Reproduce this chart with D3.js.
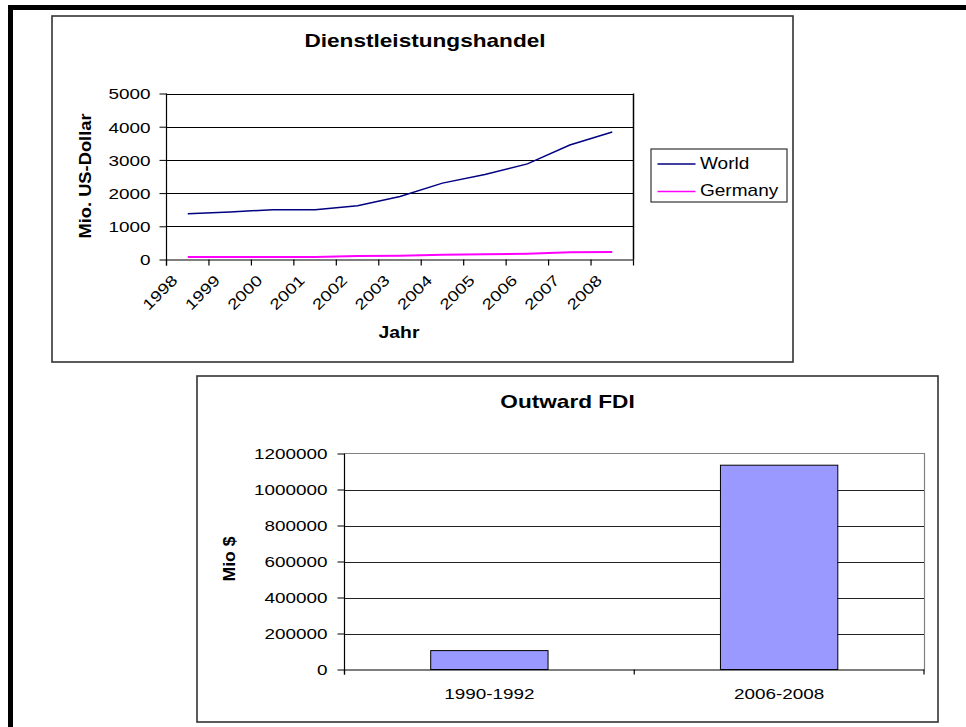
<!DOCTYPE html>
<html>
<head>
<meta charset="utf-8">
<script src="https://cdn.jsdelivr.net/npm/d3@7/dist/d3.min.js"></script>
<style>
  html, body { margin: 0; padding: 0; background: #fff; }
  svg { display: block; }
  text { font-family: "Liberation Sans", Arial, sans-serif; fill: #000; }
</style>
</head>
<body>
<svg id="chart" width="966" height="727"></svg>
<script>
// ---------- data ----------
const years = ["1998","1999","2000","2001","2002","2003","2004","2005","2006","2007","2008"];
const worldValues = [1380,1430,1500,1500,1620,1900,2300,2560,2880,3450,3840];
const germanyValues = [75,75,75,75,105,115,145,155,175,215,225];
const lineTicks = [0,1000,2000,3000,4000,5000];
const lineTitle = "Dienstleistungshandel";
const lineYLabel = "Mio. US-Dollar";
const lineXLabel = "Jahr";
const seriesNames = ["World","Germany"];

const fdiCategories = ["1990-1992","2006-2008"];
const fdiValues = [105000,1135000];
const fdiTicks = [0,200000,400000,600000,800000,1000000,1200000];
const fdiTitle = "Outward FDI";
const fdiYLabel = "Mio $";

// ---------- helpers ----------
const svg = d3.select("#chart");
const SX = 1.26; // horizontal glyph stretch of the original rendering

function label(g, x, y, s, o) {
  o = o || {};
  const t = g.append("text")
    .attr("transform", `translate(${x},${y}) rotate(${o.rot || 0}) scale(${o.sx || SX},1)`)
    .attr("text-anchor", o.anchor || "middle")
    .style("font-size", (o.size || 15) + "px")
    .style("font-weight", o.bold ? "bold" : "normal")
    .text(s);
  if (o.dy) t.attr("dy", o.dy);
  return t;
}

// outer page frame
svg.append("rect").attr("x", 8).attr("y", 5).attr("width", 958).attr("height", 5).attr("fill", "#000");
svg.append("rect").attr("x", 8).attr("y", 5).attr("width", 5).attr("height", 722).attr("fill", "#000");

// =============== Chart 1: line chart ===============
const c1 = svg.append("g");
c1.append("rect").attr("x", 52).attr("y", 16).attr("width", 741).attr("height", 346)
  .attr("fill", "#fff").attr("stroke", "#333").attr("stroke-width", 1.6);

const x1 = d3.scaleBand().domain(years).range([166.5, 633.5]).padding(0);
const y1 = d3.scaleLinear().domain([0, 5000]).range([259.5, 93.5]);

// gridlines
c1.append("g").selectAll("line").data(lineTicks.filter(d => d > 0)).join("line")
  .attr("x1", 166.5).attr("x2", 633.5)
  .attr("y1", d => Math.round(y1(d)) + 0.5).attr("y2", d => Math.round(y1(d)) + 0.5)
  .attr("stroke", "#000").attr("stroke-width", 1);
// right border of plot
c1.append("line").attr("x1", 633.5).attr("x2", 633.5).attr("y1", y1(5000)).attr("y2", y1(0))
  .attr("stroke", "#000").attr("stroke-width", 1.5);

// y axis
const yAxis1 = d3.axisLeft(y1).tickValues(lineTicks).tickSize(7).tickSizeOuter(0).tickFormat(d3.format("d"));
const ya1 = c1.append("g").attr("transform", "translate(166.5,0)").call(yAxis1);
ya1.select(".domain").remove();
ya1.selectAll(".tick line").attr("stroke", "#000");
ya1.selectAll(".tick text").attr("x", null).attr("dy", "0.36em")
  .attr("transform", `translate(-16,0) scale(${SX},1)`)
  .style("font-size", "15px").attr("font-family", null);
c1.append("line").attr("x1", 166.5).attr("x2", 166.5).attr("y1", y1(5000)).attr("y2", y1(0) + 6)
  .attr("stroke", "#000").attr("stroke-width", 1.2);

// x axis
const xAxis1 = d3.axisBottom(x1).tickSize(0).tickSizeOuter(0);
const xa1 = c1.append("g").attr("transform", `translate(0,${y1(0)})`).call(xAxis1);
xa1.select(".domain").attr("stroke", "#000").attr("stroke-width", 1.2);
xa1.selectAll(".tick text").attr("y", null).attr("dy", "0.35em")
  .attr("text-anchor", "end")
  .attr("transform", `translate(-13,18) rotate(-45) scale(${SX},1)`)
  .style("font-size", "15px").attr("font-family", null);
// boundary ticks
const bounds1 = years.map(d => x1(d)).concat([x1(years[years.length - 1]) + x1.bandwidth()]);
c1.append("g").selectAll("line").data(bounds1).join("line")
  .attr("x1", d => d).attr("x2", d => d)
  .attr("y1", y1(0)).attr("y2", y1(0) + 6)
  .attr("stroke", "#000").attr("stroke-width", 1.2);

// lines
const cx1 = d => x1(d) + x1.bandwidth() / 2;
const lineGen = vals => d3.line().x((d, i) => cx1(years[i])).y(d => y1(d))(vals);
c1.append("path").attr("d", lineGen(germanyValues)).attr("fill", "none")
  .attr("stroke", "#FF00FF").attr("stroke-width", 2);
c1.append("path").attr("d", lineGen(worldValues)).attr("fill", "none")
  .attr("stroke", "#000080").attr("stroke-width", 1.5);

// titles
label(c1, 425, 46.5, lineTitle, { size: 19, bold: true, sx: 1.19 });
label(c1, 399, 337.5, lineXLabel, { size: 16, bold: true, sx: 1.21 });
label(c1, 90.5, 176, lineYLabel, { size: 16.5, bold: true, sx: 1.11, rot: -90 });

// legend
const lg = c1.append("g");
lg.append("rect").attr("x", 651).attr("y", 149).attr("width", 136).attr("height", 53)
  .attr("fill", "#fff").attr("stroke", "#333").attr("stroke-width", 1.2);
const legendColors = ["#000080", "#FF00FF"];
const legendY = [164, 191.5];
seriesNames.forEach((n, i) => {
  lg.append("line").attr("x1", 657.5).attr("x2", 695.5).attr("y1", legendY[i]).attr("y2", legendY[i])
    .attr("stroke", legendColors[i]).attr("stroke-width", i ? 1.6 : 1.4);
  label(lg, 700, legendY[i] + 4.5, n, { size: 17, sx: 1.12, anchor: "start" });
});

// =============== Chart 2: bar chart ===============
const c2 = svg.append("g");
c2.append("rect").attr("x", 197).attr("y", 376).attr("width", 741).attr("height", 346)
  .attr("fill", "#fff").attr("stroke", "#333").attr("stroke-width", 1.6);

const x2 = d3.scaleBand().domain(fdiCategories).range([344.5, 924]).padding(0);
const y2 = d3.scaleLinear().domain([0, 1200000]).range([669.5, 453.5]);

// gridlines
c2.append("g").selectAll("line").data(fdiTicks.filter(d => d > 0 && d < 1200000)).join("line")
  .attr("x1", 344.5).attr("x2", 924)
  .attr("y1", d => Math.round(y2(d)) + 0.5).attr("y2", d => Math.round(y2(d)) + 0.5)
  .attr("stroke", "#222").attr("stroke-width", 1);
// plot border (top/right) gray
c2.append("path").attr("d", `M344.5,${y2(1200000)}H924.5V${y2(0)}`)
  .attr("fill", "none").attr("stroke", "#808080").attr("stroke-width", 1.2);

// bars
const barW = x2.bandwidth() * 0.405;
c2.append("g").selectAll("rect").data(fdiValues).join("rect")
  .attr("x", (d, i) => x2(fdiCategories[i]) + x2.bandwidth() / 2 - barW / 2)
  .attr("y", d => y2(d))
  .attr("width", barW)
  .attr("height", d => y2(0) - y2(d))
  .attr("fill", "#9999FF").attr("stroke", "#000").attr("stroke-width", 1);

// y axis
const yAxis2 = d3.axisLeft(y2).tickValues(fdiTicks).tickSize(7).tickSizeOuter(0).tickFormat(d3.format("d"));
const ya2 = c2.append("g").attr("transform", "translate(344.5,0)").call(yAxis2);
ya2.select(".domain").remove();
ya2.selectAll(".tick line").attr("stroke", "#000");
ya2.selectAll(".tick text").attr("x", null).attr("dy", "0.36em")
  .attr("transform", `translate(-17,0) scale(${SX},1)`)
  .style("font-size", "15px").attr("font-family", null);
c2.append("line").attr("x1", 344.5).attr("x2", 344.5).attr("y1", y2(1200000)).attr("y2", y2(0) + 5)
  .attr("stroke", "#000").attr("stroke-width", 1.2);

// x axis
const xAxis2 = d3.axisBottom(x2).tickSize(0).tickSizeOuter(0);
const xa2 = c2.append("g").attr("transform", `translate(0,${y2(0)})`).call(xAxis2);
xa2.select(".domain").attr("stroke", "#000").attr("stroke-width", 1.2);
xa2.selectAll(".tick text").attr("y", null).attr("dy", null)
  .attr("transform", `translate(0,29) scale(${SX},1)`)
  .style("font-size", "15px").attr("font-family", null);
const bounds2 = fdiCategories.map(d => x2(d)).concat([x2(fdiCategories[1]) + x2.bandwidth()]);
c2.append("g").selectAll("line").data(bounds2).join("line")
  .attr("x1", d => d).attr("x2", d => d)
  .attr("y1", y2(0)).attr("y2", y2(0) + 5)
  .attr("stroke", "#000").attr("stroke-width", 1.2);

label(c2, 567.5, 407.5, fdiTitle, { size: 19, bold: true, sx: 1.19 });
label(c2, 234.5, 559, fdiYLabel, { size: 16, bold: true, sx: 1.1, rot: -90 });
</script>
</body>
</html>
